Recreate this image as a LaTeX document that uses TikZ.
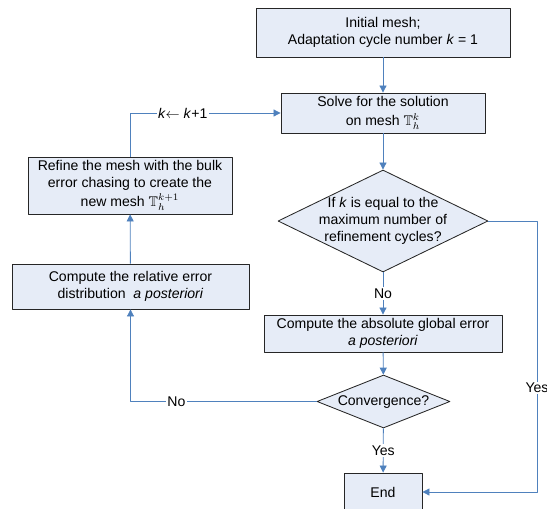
\documentclass[tikz,border=0pt]{standalone}
\usepackage{amssymb}
\usepackage{fontspec}
\setmainfont{Liberation Sans}
\usetikzlibrary{shapes.geometric,arrows.meta}
\definecolor{flowblue}{RGB}{79,129,189}
\definecolor{boxfill}{RGB}{230,236,247}
\def\pxl{0.025cm}
\newcommand{\diatext}[1]{\makebox[0pt]{\smash{\raisebox{-2.6pt}{\begin{tabular}{@{}c@{}}#1\end{tabular}}}}}
\begin{document}
\begin{tikzpicture}[x=0.025cm, y=-0.025cm, line join=round,
	>={Triangle[length=5pt,width=5pt]},
	stepbox/.style={draw=black!85, fill=boxfill, line width=0.6pt, align=center, inner sep=0pt},
	testbox/.style={diamond, draw=black!85, fill=boxfill, line width=0.6pt, inner sep=0pt},
	flow/.style={draw=flowblue, line width=0.6pt},
	tag/.style={fill=white, inner sep=1pt}]
	\useasboundingbox (0,0) rectangle (547,508);
	
	% main column
	\node[stepbox, minimum width=254*\pxl, minimum height=49*\pxl] (init) at (383,32.5) {Initial mesh;\\Adaptation cycle number \textit{k} = 1};
	\node[stepbox, minimum width=204*\pxl, minimum height=40*\pxl] (solve) at (383,113) {Solve for the solution\\[1pt]on mesh $\mathbb{T}_h^{k}$};
	\node[testbox, minimum width=210*\pxl, minimum height=102*\pxl] (ifmax) at (383,221) {\diatext{If \textit{k} is equal to the\\maximum number of\\refinement cycles?}};
	\node[stepbox, minimum width=238*\pxl, minimum height=37*\pxl] (absolute) at (383,333.5) {Compute the absolute global error\\\textit{a posteriori}};
	\node[testbox, minimum width=133*\pxl, minimum height=53*\pxl] (conv) at (383.5,401.5) {\diatext{Convergence?}};
	\node[stepbox, minimum width=78*\pxl, minimum height=38*\pxl] (stop) at (383,492) {End};
	
	% left column
	\node[stepbox, minimum width=237*\pxl, minimum height=45*\pxl] (relative) at (130.5,286.5) {Compute the relative error\\distribution \ \textit{a posteriori}};
	\node[stepbox, minimum width=204*\pxl, minimum height=57*\pxl] (refine) at (130,185.5) {Refine the mesh with the bulk\\error chasing to create the\\[1pt]new mesh $\mathbb{T}_h^{k+1}$};
	
	\coordinate (rt) at (537,221);
	\coordinate (rb) at (537,492);
	\coordinate (lb) at (relative.south |- conv.west);
	\coordinate (lt) at (refine.north |- solve.west);
	
	\draw[flow,->] (init) -- (solve);
	\draw[flow,->] (solve) -- (ifmax);
	\draw[flow,->] (ifmax) -- node[tag] {No} (absolute);
	\draw[flow,->] (absolute) -- (conv);
	\draw[flow,->] (conv) -- node[tag] {Yes} (stop);
	\draw[flow,->] (ifmax.east) -- (rt) -- node[tag, pos=0.616] {Yes} (rb) -- (stop.east);
	\draw[flow,->] (conv.west) -- node[tag, pos=0.753] {No} (lb) -- (relative.south);
	\draw[flow,->] (relative) -- (refine);
	\draw[flow,->] (refine.north) -- (lt) -- node[tag, pos=0.35] {\textit{k}$\leftarrow$ \textit{k}+1} (solve.west);
	
\end{tikzpicture}
\end{document}
